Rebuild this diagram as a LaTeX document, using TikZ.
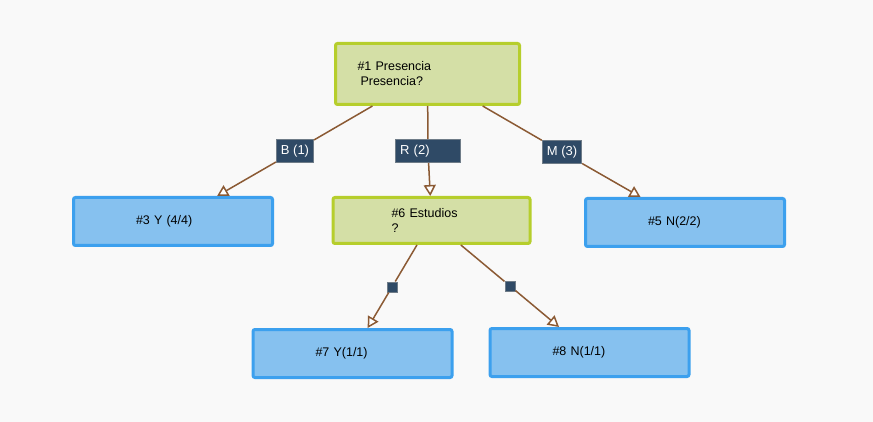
\documentclass[tikz,border=0pt]{standalone}
\usepackage{fontspec}
\setmainfont{Liberation Sans}
\usetikzlibrary{arrows.meta, positioning}
\definecolor{bgcol}{HTML}{F9F9F9}
\definecolor{greenfill}{HTML}{D4DFA6}
\definecolor{greenline}{HTML}{B6CE2C}
\definecolor{bluefill}{HTML}{86C1EF}
\definecolor{blueline}{HTML}{3CA0EE}
\definecolor{lblfill}{HTML}{2F4A66}
\definecolor{lblline}{HTML}{6F7C88}
\definecolor{edgecol}{HTML}{8B5A34}

\begin{document}
\begin{tikzpicture}[x=1pt, y=-1pt, font=\fontsize{12.5}{15}\selectfont]
  \tikzstyle{decision}=[draw=greenline, fill=greenfill, line width=3pt, rounded corners=2pt, align=left, inner ysep=0pt]
  \tikzstyle{leaf}=[draw=blueline, fill=bluefill, line width=3pt, rounded corners=2pt, align=left, inner xsep=62.5pt, text width=74pt, minimum height=48pt, inner ysep=0pt]
  \tikzstyle{branch}=[draw=lblline, fill=lblfill, text=white, line width=1pt, inner xsep=4.5pt, inner ysep=0pt, minimum height=23pt, font=\fontsize{13}{15}\selectfont]
  \tikzstyle{tick}=[draw=lblline, fill=lblfill, line width=1pt, minimum size=10pt, inner sep=0pt]
  \tikzstyle{edge}=[draw=edgecol, line width=1.5pt]
  \tikzstyle{edgearrow}=[edge, -{Triangle[length=11pt, width=12pt, fill=white]}]

  \fill[bgcol] (0,0) rectangle (873,422);

  % decision nodes
  \node[decision, text width=140pt, inner xsep=22pt, minimum height=61pt] (n1) at (427.5,74) {\#1 Presencia\\\hspace*{3pt}Presencia?};
  \node[decision, text width=80pt, inner xsep=58.5pt, minimum height=46pt] (n6) at (431.5,220.5) {\#6 Estudios\\?};

  % leaves
  \node[leaf] (n3) at (173,221.5) {\#3 Y (4/4)};
  \node[leaf] (n5) at (685,222.5) {\#5 N(2/2)};
  \node[leaf] (n7) at (352.5,353.5) {\#7 Y(1/1)};
  \node[leaf] (n8) at (589.5,352.5) {\#8 N(1/1)};

  % branch labels
  \node[branch] (lb) at (295,151) {B (1)};
  \node[branch, text width=56pt, align=left] (lr) at (428,151) {R (2)};
  \node[branch] (lm) at (562,152) {M (3)};
  \node[tick] (s1) at (392,287) {};
  \node[tick] (s2) at (510,286) {};

  % connectors
  \draw[edge] (n1) -- (lb);
  \draw[edgearrow] (lb) -- (n3);
  \draw[edge] (n1) -- (lr);
  \draw[edgearrow] (lr) -- (n6);
  \draw[edge] (n1) -- (lm);
  \draw[edgearrow] (lm) -- (n5);
  \draw[edge] (n6) -- (s1);
  \draw[edgearrow] (s1) -- (n7);
  \draw[edge] (n6) -- (s2);
  \draw[edgearrow] (s2) -- (n8);
\end{tikzpicture}
\end{document}
